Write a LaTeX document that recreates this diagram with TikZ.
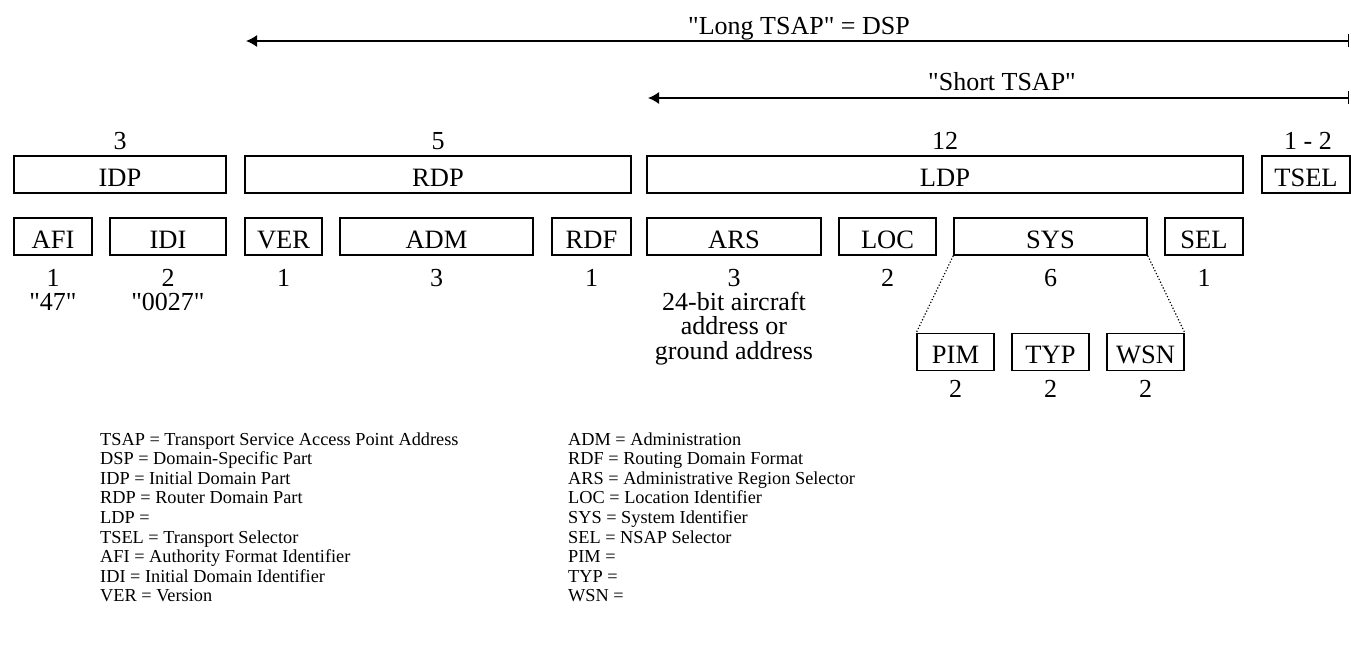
\documentclass[tikz,border=0pt]{standalone}
\usepackage{fontspec}
\setmainfont{Liberation Serif}[Ligatures=TeXOff]
\usetikzlibrary{arrows.meta}
\begin{document}
\begin{tikzpicture}[x=1pt,y=-1pt,
  box/.style={draw, line width=1.5pt, inner sep=0pt, minimum height=37pt,
    font=\fontsize{26.5}{28}\selectfont, text height=23pt, text depth=0pt},
  lbl/.style={inner sep=0pt, font=\fontsize{26}{28}\selectfont, anchor=base},
  leg/.style={inner sep=0pt, font=\fontsize{18.3}{19.6}\selectfont, anchor=base west},
  conn/.style={line width=1.5pt},
  dots/.style={line width=1.2pt, dotted}]
\useasboundingbox (0,0) rectangle (1351,655);

% length arrows
\coordinate (longL) at (246,41);
\coordinate (longR) at (1349,41);
\coordinate (shortL) at (648,98);
\coordinate (shortR) at (1349,98);
\draw[conn, {Latex[length=11pt,width=12pt]}-{Bar[width=13pt]}] (longL) -- (longR);
\draw[conn, {Latex[length=11pt,width=12pt]}-{Bar[width=13pt]}] (shortL) -- (shortR);
\node[lbl] (longlbl) at (799,34.5) {"Long TSAP" = DSP};
\node[lbl] (shortlbl) at (1002,91) {"Short TSAP"};

% top-level fields
\node[box, minimum width=212pt] (IDP) at (120,174.5) {IDP};
\node[box, minimum width=386pt] (RDP) at (438,174.5) {RDP};
\node[box, minimum width=596pt] (LDP) at (945,174.5) {LDP};
\node[box, minimum width=88pt] (TSEL) at (1306,174.5) {TSEL};
\node[lbl] (nIDP) at (120,149.5) {3};
\node[lbl] (nRDP) at (438,149.5) {5};
\node[lbl] (nLDP) at (945,149.5) {12};
\node[lbl] (nTSEL) at (1308,149.5) {1 - 2};

% sub-fields
\newcommand{\ysub}{236.5}
\node[box, minimum width=78pt] (AFI) at (53,\ysub) {AFI};
\node[box, minimum width=116pt] (IDI) at (168,\ysub) {IDI};
\node[box, minimum width=77pt] (VER) at (283.5,\ysub) {VER};
\node[box, minimum width=193pt] (ADM) at (436.5,\ysub) {ADM};
\node[box, minimum width=79pt] (RDF) at (591.5,\ysub) {RDF};
\node[box, minimum width=174pt] (ARS) at (734,\ysub) {ARS};
\node[box, minimum width=97pt] (LOC) at (887.5,\ysub) {LOC};
\node[box, minimum width=193pt] (SYS) at (1050.5,\ysub) {SYS};
\node[box, minimum width=78pt] (SEL) at (1204,\ysub) {SEL};

\newcommand{\ynum}{286}
\node[lbl] (nAFI) at (53,\ynum) {1};
\node[lbl] (nIDI) at (168,\ynum) {2};
\node[lbl] (nVER) at (283.5,\ynum) {1};
\node[lbl] (nADM) at (436.5,\ynum) {3};
\node[lbl] (nRDF) at (591.5,\ynum) {1};
\node[lbl] (nARS) at (734,\ynum) {3};
\node[lbl] (nLOC) at (887.5,\ynum) {2};
\node[lbl] (nSYS) at (1050.5,\ynum) {6};
\node[lbl] (nSEL) at (1204,\ynum) {1};

\node[lbl] (vAFI) at (53,310) {"47"};
\node[lbl] (vIDI) at (168,310) {"0027"};
\node[lbl] (addr1) at (734,310) {24-bit aircraft};
\node[lbl] (addr2) at (734,334.5) {address or};
\node[lbl] (addr3) at (734,359) {ground address};

% SYS breakdown
\node[box, minimum width=77pt] (PIM) at (955.5,352) {PIM};
\node[box, minimum width=77pt] (TYP) at (1050.5,352) {TYP};
\node[box, minimum width=77pt] (WSN) at (1145.5,352) {WSN};
\draw[dots] (SYS.south west) -- (PIM.north west);
\draw[dots] (SYS.south east) -- (WSN.north east);
\node[lbl] (nPIM) at (955.5,397) {2};
\node[lbl] (nTYP) at (1050.5,397) {2};
\node[lbl] (nWSN) at (1145.5,397) {2};

% legend
\node[leg] (l1) at (100,445) {TSAP = Transport Service Access Point Address};
\node[leg] (l2) at (100,464.6) {DSP = Domain-Specific Part};
\node[leg] (l3) at (100,484.2) {IDP = Initial Domain Part};
\node[leg] (l4) at (100,503.8) {RDP = Router Domain Part};
\node[leg] (l5) at (100,523.4) {LDP =};
\node[leg] (l6) at (100,543) {TSEL = Transport Selector};
\node[leg] (l7) at (100,562.6) {AFI = Authority Format Identifier};
\node[leg] (l8) at (100,582.2) {IDI = Initial Domain Identifier};
\node[leg] (l9) at (100,601.8) {VER = Version};
\node[leg] (r1) at (568,445) {ADM = Administration};
\node[leg] (r2) at (568,464.6) {RDF = Routing Domain Format};
\node[leg] (r3) at (568,484.2) {ARS = Administrative Region Selector};
\node[leg] (r4) at (568,503.8) {LOC = Location Identifier};
\node[leg] (r5) at (568,523.4) {SYS = System Identifier};
\node[leg] (r6) at (568,543) {SEL = NSAP Selector};
\node[leg] (r7) at (568,562.6) {PIM =};
\node[leg] (r8) at (568,582.2) {TYP =};
\node[leg] (r9) at (568,601.8) {WSN =};
\end{tikzpicture}
\end{document}
